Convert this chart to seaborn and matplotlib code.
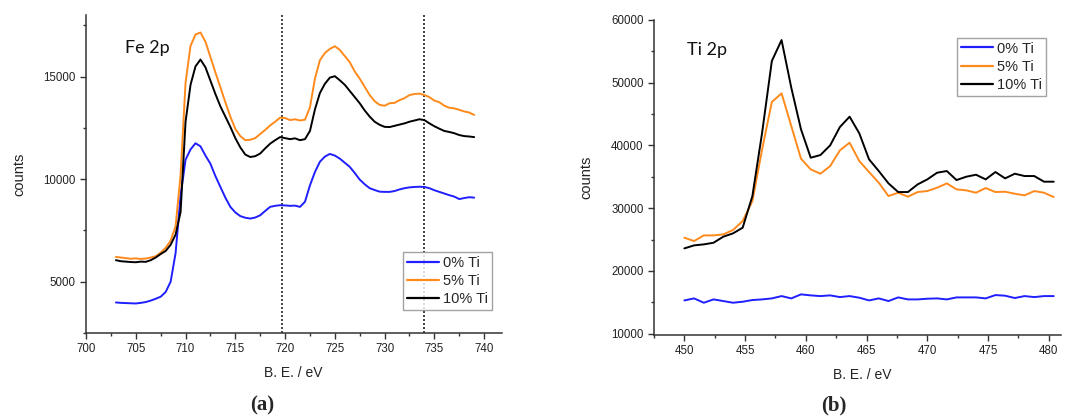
import numpy as np
import pandas as pd
import matplotlib
matplotlib.use("Agg")
import matplotlib.pyplot as plt
from matplotlib.ticker import MultipleLocator
import seaborn as sns

# ---------------- Fe 2p region (panel a) ----------------
fe_energy = [703.0 + 0.5 * i for i in range(73)]  # 703.0 ... 739.0 eV

fe_0ti = [3990, 3970, 3960, 3950, 3940, 3970, 4010, 4080, 4170, 4270,
          4500, 5000, 6400, 9200, 10950, 11450, 11750, 11600, 11150, 10750,
          10150, 9620, 9100, 8650, 8380, 8200, 8120, 8080, 8130, 8240,
          8450, 8650, 8700, 8730, 8720, 8700, 8710, 8650, 8900, 9700,
          10350, 10850, 11100, 11230, 11150, 11000, 10800, 10600, 10300, 9980,
          9750, 9560, 9470, 9390, 9380, 9380, 9420, 9500, 9560, 9600,
          9620, 9630, 9620, 9560, 9460, 9380, 9300, 9220, 9150, 9030,
          9080, 9120, 9100]

fe_5ti = [6210, 6180, 6150, 6120, 6140, 6110, 6130, 6180, 6240, 6420,
          6650, 7000, 7700, 10200, 14700, 16500, 17050, 17150, 16700, 15950,
          15200, 14480, 13750, 13050, 12450, 12100, 11900, 11920, 12000, 12200,
          12400, 12620, 12800, 13000, 12980, 12880, 12920, 12860, 12900, 13500,
          14900, 15800, 16150, 16350, 16480, 16300, 16000, 15700, 15250, 14900,
          14500, 14100, 13800, 13620, 13580, 13700, 13720, 13850, 13950, 14100,
          14150, 14170, 14100, 14000, 13830, 13750, 13580, 13480, 13450, 13380,
          13300, 13250, 13130]

fe_10ti = [6050, 6000, 5980, 5960, 5950, 5980, 5970, 6050, 6180, 6350,
           6500, 6800, 7300, 8400, 12800, 14600, 15500, 15830, 15450, 14800,
           14150, 13550, 13050, 12550, 12000, 11550, 11200, 11080, 11120, 11250,
           11500, 11730, 11900, 12050, 12000, 11950, 11990, 11900, 11950, 12350,
           13400, 14200, 14650, 14950, 15020, 14820, 14600, 14300, 14000, 13700,
           13350, 13050, 12800, 12650, 12550, 12540, 12600, 12660, 12720, 12800,
           12860, 12920, 12880, 12720, 12580, 12460, 12350, 12300, 12240, 12150,
           12100, 12080, 12050]

fe_markers = [719.7, 734.0]

# ---------------- Ti 2p region (panel b) ----------------
ti_energy = [450.0 + 0.8 * i for i in range(39)]  # 450.0 ... 480.4 eV

ti_0ti = [15310, 15630, 14940, 15470, 15210, 14940, 15100, 15370, 15470, 15630,
          16000, 15630, 16270, 16110, 16000, 16110, 15840, 16000, 15740, 15310,
          15630, 15210, 15790, 15470, 15470, 15580, 15630, 15470, 15790, 15790,
          15790, 15630, 16160, 16060, 15690, 16000, 15840, 16000, 16000]

ti_5ti = [25300, 24770, 25670, 25670, 25830, 26520, 27960, 31150, 39380, 46930,
          48310, 43100, 37890, 36190, 35500, 36720, 39220, 40440, 37520, 35770,
          34070, 31940, 32470, 31840, 32580, 32740, 33270, 33960, 33010, 32850,
          32470, 33220, 32580, 32630, 32310, 32050, 32740, 32470, 31780]

ti_10ti = [23600, 24080, 24240, 24500, 25460, 25990, 26900, 31940, 42040, 53460,
           56800, 49210, 42570, 38050, 38480, 40020, 42940, 44590, 41930, 37790,
           35930, 33960, 32580, 32580, 33800, 34600, 35660, 35930, 34490, 35020,
           35340, 34600, 35770, 34760, 35500, 35130, 35130, 34230, 34230]

sample_names = ["0% Ti", "5% Ti", "10% Ti"]
sample_colors = {"0% Ti": "#1f1fff", "5% Ti": "#ff8a1c", "10% Ti": "#000000"}


def long_frame(energy, series):
    parts = []
    for name, vals in zip(sample_names, series):
        parts.append(pd.DataFrame({"BE": energy, "counts": vals, "sample": name}))
    return pd.concat(parts, ignore_index=True)


fe_df = long_frame(fe_energy, [fe_0ti, fe_5ti, fe_10ti])
ti_df = long_frame(ti_energy, [ti_0ti, ti_5ti, ti_10ti])

sns.set_theme(style="ticks")
plt.rcParams["font.family"] = ["Liberation Sans", "DejaVu Sans"]
plt.rcParams["axes.edgecolor"] = "#333333"
plt.rcParams["axes.linewidth"] = 1.1

fig = plt.figure(figsize=(10.7, 4.18), dpi=100)
ax_a = fig.add_axes([0.0804, 0.2033, 0.3888, 0.7607])
ax_b = fig.add_axes([0.6112, 0.1986, 0.3804, 0.7536])


def style_axes(ax):
    sns.despine(ax=ax)
    ax.tick_params(axis="both", which="major", direction="out", length=4.5,
                   width=1.0, labelsize=8.3, pad=3, color="#333333", labelcolor="#222222")
    ax.tick_params(axis="both", which="minor", direction="out", length=2.5,
                   width=1.0, color="#333333")
    ax.set_xlabel("B. E. / eV", fontsize=10, color="#222222")
    ax.set_ylabel("counts", fontsize=10.5, color="#222222")


def style_legend(ax, **kw):
    leg = ax.legend(fontsize=10.5, frameon=True, fancybox=False, handlelength=2.2,
                    handletextpad=0.3, labelspacing=0.3, borderpad=0.25,
                    borderaxespad=0.0, **kw)
    leg.get_frame().set_edgecolor("#8c8c8c")
    leg.get_frame().set_linewidth(1.0)
    for line in leg.get_lines():
        line.set_linewidth(1.6)
    return leg


# Panel (a): Fe 2p
sns.lineplot(data=fe_df, x="BE", y="counts", hue="sample", palette=sample_colors,
             hue_order=sample_names, linewidth=1.4, ax=ax_a, sort=True, estimator=None)
for e in fe_markers:
    ax_a.axvline(e, color="#222222", linestyle=(0, (1.2, 1.2)), linewidth=1.2, zorder=0.5)
ax_a.set_xlim(700, 741.8)
ax_a.set_ylim(2500, 18000)
ax_a.xaxis.set_major_locator(MultipleLocator(5))
ax_a.xaxis.set_minor_locator(MultipleLocator(2.5))
ax_a.yaxis.set_major_locator(MultipleLocator(5000))
ax_a.yaxis.set_minor_locator(MultipleLocator(2500))
style_axes(ax_a)
ax_a.yaxis.set_label_coords(-0.143, 0.5)
ax_a.xaxis.set_label_coords(0.498, -0.105)
style_legend(ax_a, loc="lower right", bbox_to_anchor=(0.976, 0.072))
ax_a.text(0.094, 0.896, "Fe 2p", transform=ax_a.transAxes, fontsize=13,
          family=["Lato", "DejaVu Sans"], va="center", ha="left", color="#111111")

# Panel (b): Ti 2p
sns.lineplot(data=ti_df, x="BE", y="counts", hue="sample", palette=sample_colors,
             hue_order=sample_names, linewidth=1.4, ax=ax_b, sort=True, estimator=None)
ax_b.set_xlim(447.5, 481)
ax_b.set_ylim(9800, 60000)
ax_b.xaxis.set_major_locator(MultipleLocator(5))
ax_b.xaxis.set_minor_locator(MultipleLocator(2.5))
ax_b.yaxis.set_major_locator(MultipleLocator(10000))
ax_b.yaxis.set_minor_locator(MultipleLocator(5000))
style_axes(ax_b)
ax_b.yaxis.set_label_coords(-0.148, 0.5)
ax_b.xaxis.set_label_coords(0.511, -0.105)
style_legend(ax_b, loc="upper right", bbox_to_anchor=(0.963, 0.943))
ax_b.text(0.081, 0.905, "Ti 2p", transform=ax_b.transAxes, fontsize=13,
          family=["Lato", "DejaVu Sans"], va="center", ha="left", color="#111111")

# Panel letters
fig.text(262 / 1070, 1 - 405 / 418, "(a)", ha="center", va="center", fontsize=15,
         fontweight="bold", family=["Liberation Serif", "DejaVu Serif"])
fig.text(834 / 1070, 1 - 405 / 418, "(b)", ha="center", va="center", fontsize=15,
         fontweight="bold", family=["Liberation Serif", "DejaVu Serif"])

fig.savefig("out.png", dpi=100, facecolor="white")
